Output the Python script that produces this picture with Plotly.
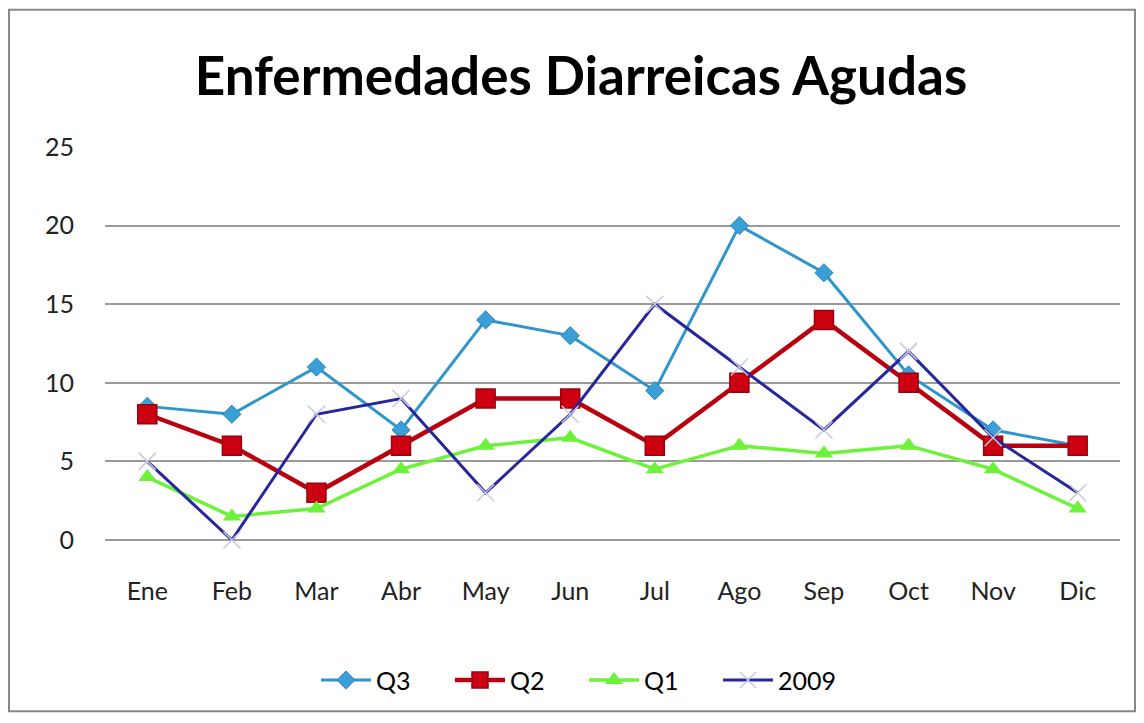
import plotly.graph_objects as go

# Data
meses = ['Ene', 'Feb', 'Mar', 'Abr', 'May', 'Jun', 'Jul', 'Ago', 'Sep', 'Oct', 'Nov', 'Dic']
q3 = [8.5, 8, 11, 7, 14, 13, 9.5, 20, 17, 10.5, 7, 6]
q2 = [8, 6, 3, 6, 9, 9, 6, 10, 14, 10, 6, 6]
q1 = [4, 1.5, 2, 4.5, 6, 6.5, 4.5, 6, 5.5, 6, 4.5, 2]
y2009 = [5, 0, 8, 9, 3, 8, 15, 11, 7, 12, 6.5, 3]

FONT = 'Lato'

# the page body has an 8px margin, so the figure is a bit smaller than the window
W, H = 1128, 707
L, T, PW, PH = 97, 139, 1015, 395

fig = go.Figure()

fig.add_trace(go.Scatter(
    x=meses, y=q3, name='Q3', mode='lines+markers',
    line=dict(color='#2F96CC', width=3),
    marker=dict(symbol='diamond', size=14, color='#3A9FD6',
                line=dict(color='#2F86B8', width=1))
))
fig.add_trace(go.Scatter(
    x=meses, y=q2, name='Q2', mode='lines+markers',
    line=dict(color='#B8000E', width=4.5),
    marker=dict(symbol='square', size=19, color='#CC0010',
                line=dict(color='#9A0010', width=1.5))
))
fig.add_trace(go.Scatter(
    x=meses, y=q1, name='Q1', mode='lines+markers',
    line=dict(color='#6CF23A', width=3.5),
    marker=dict(symbol='triangle-up', size=16, color='#6CF23A')
))
fig.add_trace(go.Scatter(
    x=meses, y=y2009, name='2009', mode='lines+markers',
    line=dict(color='#25279A', width=3),
    marker=dict(symbol='x-thin', size=17, color='#C8C8DC',
                line=dict(color='#C8C8DC', width=1.5))
))

fig.update_layout(
    width=W, height=H,
    paper_bgcolor='white', plot_bgcolor='white',
    margin=dict(l=L, r=W - L - PW, t=T, b=H - T - PH),
    title=dict(text='<b>Enfermedades Diarreicas Agudas</b>',
               x=(581 - 105) / PW, xref='paper', xanchor='center',
               y=1 - 68 / H, yanchor='middle',
               font=dict(family=FONT, size=53, color='black')),
    font=dict(family=FONT, size=25, color='#222222'),
    showlegend=True,
    legend=dict(orientation='h', x=(316 - 105) / PW, xanchor='left',
                y=(542 - 683) / PH, yanchor='middle',
                font=dict(family=FONT, size=25, color='black'),
                entrywidth=69, entrywidthmode='pixels',
                itemwidth=50, traceorder='normal'),
    shapes=[dict(type='rect', xref='paper', yref='paper',
                 x0=-L / PW + 0.001, x1=(W - 1 - L) / PW,
                 y0=-(H - T - PH - 1) / PH, y1=(T + PH - 1) / PH,
                 line=dict(color='#888888', width=2), layer='below')]
)

fig.update_xaxes(
    type='category', range=[-0.5, 11.5], showgrid=False, showline=False, ticks='',
    tickfont=dict(family=FONT, size=25, color='#222222'), ticklabelstandoff=34
)
fig.update_yaxes(
    range=[0, 25], dtick=5, showgrid=True, gridcolor='#9A9A9A', gridwidth=1.5,
    zeroline=True, zerolinecolor='#9A9A9A', zerolinewidth=1.5,
    showline=False, ticks='', ticklabelstandoff=30,
    tickfont=dict(family=FONT, size=25, color='#222222')
)
fig.update_traces(cliponaxis=False)

fig.write_html('out.html')
